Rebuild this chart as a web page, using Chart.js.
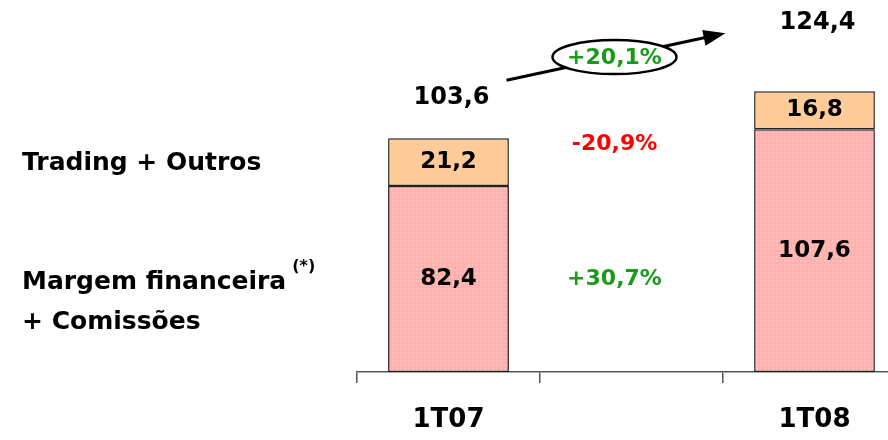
<!DOCTYPE html>
<html>
<head>
<meta charset="utf-8">
<script src="https://cdn.jsdelivr.net/npm/chart.js@4.4.0/dist/chart.umd.min.js"></script>
<style>
  html, body { margin: 0; padding: 0; background: #fff; overflow: hidden; }
  #wrap { width: 888px; height: 440px; overflow: hidden; }
</style>
</head>
<body>
<div id="wrap"><canvas id="c" width="906" height="440"></canvas></div>
<script>
// chart values
const periods = ['1T07', '', '1T08'];
const margemComissoes = [82.4, null, 107.6];
const tradingOutros = [21.2, null, 16.8];
const totals = [103.6, null, 124.4];
const seriesNames = ['Trading + Outros', 'Margem financeira', '+ Comissões'];
const variacoes = ['-20,9%', '+30,7%'];
const variacaoTotal = '+20,1%';

const FONT = '"DejaVu Sans", Verdana, sans-serif';
const fmt = v => v.toFixed(1).replace('.', ',');

// dotted pink fill like the original
function dotPattern() {
  const t = document.createElement('canvas');
  t.width = 4; t.height = 4;
  const g = t.getContext('2d');
  g.fillStyle = '#ffb0b4';
  g.fillRect(0, 0, 4, 4);
  g.fillStyle = '#ffc2aa';
  g.fillRect(0, 0, 2, 2);
  return g.createPattern(t, 'repeat');
}

const annotations = {
  id: 'annotations',
  afterDatasetsDraw(chart) {
    const ctx = chart.ctx;
    const x = chart.scales.x, y = chart.scales.y;
    ctx.save();
    ctx.textAlign = 'center';
    ctx.textBaseline = 'middle';

    // values inside segments
    ctx.font = 'bold 23px ' + FONT;
    ctx.fillStyle = '#000';
    chart.data.datasets.forEach((ds, di) => {
      chart.getDatasetMeta(di).data.forEach((bar, i) => {
        if (ds.data[i] == null) return;
        ctx.fillText(fmt(ds.data[i]), bar.x, (bar.y + bar.base) / 2);
      });
    });

    // totals above bars
    ctx.font = 'bold 24px ' + FONT;
    const lift = [40, 0, 69];
    totals.forEach((t, i) => {
      if (t == null) return;
      ctx.fillText(fmt(t), x.getPixelForValue(i) + 3, y.getPixelForValue(t) - lift[i]);
    });

    // change between periods
    ctx.font = 'bold 22px ' + FONT;
    const mx = x.getPixelForValue(1) - 17;
    ctx.fillStyle = '#ff0000';
    ctx.fillText(variacoes[0], mx, y.getPixelForValue(101));
    ctx.fillStyle = '#1a9a1a';
    ctx.fillText(variacoes[1], mx, y.getPixelForValue(41));

    // arrow with ellipse
    const x0 = x.getPixelForValue(0) + 58, y0 = y.getPixelForValue(totals[0]) - 58;
    const x1 = x.getPixelForValue(2) - 94, y1 = y.getPixelForValue(totals[2]) - 57;
    ctx.strokeStyle = '#000';
    ctx.lineWidth = 3;
    ctx.beginPath();
    ctx.moveTo(x0, y0);
    ctx.lineTo(x1, y1);
    ctx.stroke();
    const ang = Math.atan2(y1 - y0, x1 - x0);
    const c = Math.cos(ang), s = Math.sin(ang);
    ctx.beginPath();
    ctx.moveTo(x1 + 5 * c, y1 + 5 * s);
    ctx.lineTo(x1 - 17 * c + 8 * s, y1 - 17 * s - 8 * c);
    ctx.lineTo(x1 - 17 * c - 8 * s, y1 - 17 * s + 8 * c);
    ctx.closePath();
    ctx.fillStyle = '#000';
    ctx.fill();

    const ex = mx, ey = y0 + (y1 - y0) * (ex - x0) / (x1 - x0);
    ctx.beginPath();
    ctx.ellipse(ex, ey, 62, 17, 0, 0, Math.PI * 2);
    ctx.fillStyle = '#fff';
    ctx.fill();
    ctx.lineWidth = 2.5;
    ctx.stroke();
    ctx.fillStyle = '#1a9a1a';
    ctx.font = 'bold 22px ' + FONT;
    ctx.fillText(variacaoTotal, ex, ey + 1);

    // series names on the left
    ctx.textAlign = 'left';
    ctx.fillStyle = '#000';
    ctx.font = 'bold 25px ' + FONT;
    ctx.fillText(seriesNames[0], 22, y.getPixelForValue(92.5));
    ctx.fillText(seriesNames[1], 22, y.getPixelForValue(39.5));
    ctx.fillText(seriesNames[2], 22, y.getPixelForValue(22));
    const w = ctx.measureText(seriesNames[1]).width;
    ctx.font = 'bold 16px ' + FONT;
    ctx.fillText('(*)', 22 + w + 6, y.getPixelForValue(46.5));
    ctx.restore();
  }
};

new Chart(document.getElementById('c'), {
  type: 'bar',
  data: {
    labels: periods,
    datasets: [{
      label: 'Margem financeira + Comissões',
      data: margemComissoes,
      backgroundColor: dotPattern(),
      borderColor: '#222',
      borderWidth: 1.5,
      borderSkipped: false,
      barPercentage: 0.66,
      categoryPercentage: 1
    }, {
      label: 'Trading + Outros',
      data: tradingOutros,
      backgroundColor: '#ffcc99',
      borderColor: '#222',
      borderWidth: 1.5,
      borderSkipped: false,
      barPercentage: 0.66,
      categoryPercentage: 1
    }]
  },
  options: {
    responsive: false,
    animation: false,
    layout: { padding: { left: 357, top: 11, right: 0, bottom: 0 } },
    plugins: { legend: { display: false }, tooltip: { enabled: false } },
    scales: {
      x: {
        stacked: true,
        afterFit: s => { s.height = 68; },
        grid: { drawOnChartArea: false, drawTicks: true, tickLength: 11, color: '#555', lineWidth: 1.5, offset: true },
        border: { display: true, color: '#555', width: 1.5 },
        ticks: { color: '#000', padding: 22, font: { family: FONT, size: 26, weight: 'bold' } }
      },
      y: { stacked: true, display: false, min: 0, max: 160 }
    }
  },
  plugins: [annotations]
});
</script>
</body>
</html>
